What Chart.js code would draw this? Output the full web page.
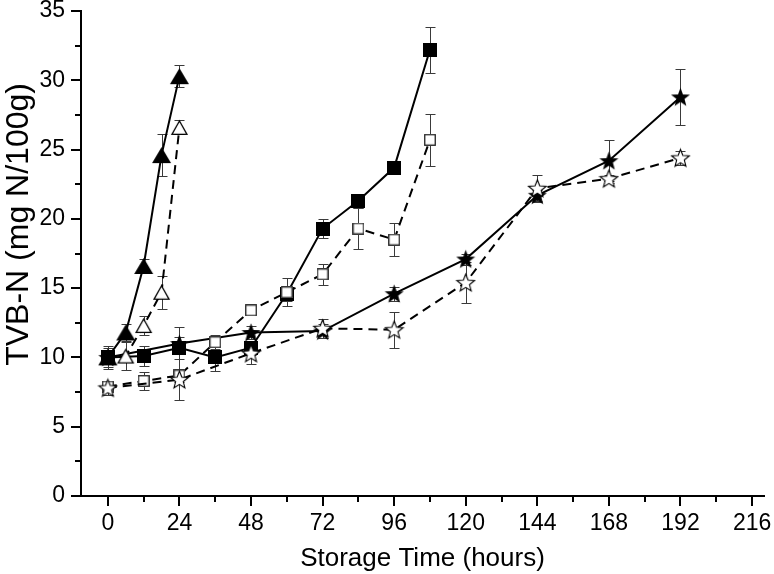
<!DOCTYPE html>
<html>
<head>
<meta charset="utf-8">
<script src="https://cdn.jsdelivr.net/npm/chart.js@4/dist/chart.umd.min.js"></script>
<style>
html,body{margin:0;padding:0;background:#fff;}
#c{display:block;}
</style>
</head>
<body>
<canvas id="c" width="774" height="574"></canvas>
<script>
// ---- data ----
const xTicks = [0, 24, 48, 72, 96, 120, 144, 168, 192, 216];
const yTicks = [0, 5, 10, 15, 20, 25, 30, 35];
const xTitle = 'Storage Time (hours)';
const yTitle = 'TVB-N (mg N/100g)';

const triHours = [0, 6, 12, 18, 24];
const triFilled = [10.0, 11.8, 16.6, 24.6, 30.3];
const triFilledErr = [0.7, 0.6, 0.5, 1.5, 0.8];
const triOpen = [10.0, 10.1, 12.3, 14.7, 26.6];
const triOpenErr = [0.5, 1.0, 0.7, 1.2, 0.5];

const sqHours = [0, 12, 24, 36, 48, 60, 72, 84, 96, 108];
const sqFilled = [10.0, 10.1, 10.7, 10.0, 10.7, 14.6, 19.3, 21.3, 23.7, 32.2];
const sqFilledErr = [0.8, 0.7, 1.5, 1.0, 0.5, 0.5, 0.7, 0.5, 0.4, 1.65];
const sqOpen = [7.9, 8.3, 8.7, 11.1, 13.4, 14.7, 16.0, 19.3, 18.5, 25.7];
const sqOpenErr = [0.3, 0.65, 0.5, 0.5, 0.3, 1.0, 0.75, 1.5, 1.2, 1.9];

const starHours = [0, 24, 48, 72, 96, 120, 144, 168, 192];
const starFilled = [10.0, 11.0, 11.8, 11.9, 14.6, 17.1, 21.7, 24.2, 28.8];
const starFilledErr = [0.5, 0.5, 0.5, 0.5, 0.5, 0.4, 0.4, 1.5, 2.0];
const starOpen = [7.8, 8.4, 10.3, 12.1, 12.0, 15.4, 22.2, 22.9, 24.4];
const starOpenErr = [0.5, 1.5, 0.8, 0.7, 1.3, 1.5, 1.0, 0.3, 0.5];

// ---- marker images ----
function mk(w, h, draw) {
  const c = document.createElement('canvas');
  c.width = w; c.height = h;
  draw(c.getContext('2d'), w, h);
  return c;
}
function triPath(g, w, h, inset) {
  g.beginPath();
  g.moveTo(w / 2, 1 + inset);
  g.lineTo(w - 1 - inset, h - 1 - inset * 0.6);
  g.lineTo(1 + inset, h - 1 - inset * 0.6);
  g.closePath();
}
function starPath(g, cx, cy, ro, ri) {
  g.beginPath();
  for (let i = 0; i < 10; i++) {
    const r = i % 2 === 0 ? ro : ri;
    const a = -Math.PI / 2 + i * Math.PI / 5;
    const px = cx + r * Math.cos(a), py = cy + r * Math.sin(a);
    if (i === 0) g.moveTo(px, py); else g.lineTo(px, py);
  }
  g.closePath();
}
const imgTriFilled = mk(21, 18, (g, w, h) => { triPath(g, w, h, 0); g.fillStyle = '#000'; g.fill(); });
const imgTriOpen = mk(19, 17, (g, w, h) => { triPath(g, w, h, 1); g.fillStyle = '#fff'; g.fill(); g.lineWidth = 1.3; g.strokeStyle = '#000'; g.stroke(); });
const imgSqFilled = mk(14, 14, (g, w, h) => { g.fillStyle = '#000'; g.fillRect(0, 0, w, h); });
const imgSqOpen = mk(12, 12, (g, w, h) => { g.fillStyle = '#fff'; g.fillRect(0, 0, w, h); g.lineWidth = 1.3; g.strokeStyle = '#222'; g.strokeRect(0.75, 0.75, w - 1.5, h - 1.5); });
const imgStarFilled = mk(21, 21, (g, w, h) => { starPath(g, 10.5, 11.3, 10, 4.2); g.fillStyle = '#000'; g.fill(); });
const imgStarOpen = mk(21, 21, (g, w, h) => { starPath(g, 10.5, 11.3, 9.3, 4); g.fillStyle = '#fff'; g.fill(); g.lineWidth = 1.1; g.strokeStyle = '#000'; g.stroke(); });

function pts(xs, ys) { return xs.map((x, i) => ({ x: x, y: ys[i] })); }

function ds(xs, ys, errs, img, dashed) {
  return {
    data: pts(xs, ys),
    errors: errs,
    showLine: true,
    borderColor: '#000',
    backgroundColor: '#000',
    borderWidth: 2,
    borderDash: dashed ? [9, 6] : [],
    pointStyle: img,
    pointRadius: 8,
    pointHoverRadius: 8,
    tension: 0,
    fill: false
  };
}

const fontFam = '"Liberation Sans", Arial, sans-serif';

const errorBars = {
  id: 'errorBars',
  beforeDatasetsDraw(chart) {
    const g = chart.ctx, xs = chart.scales.x, ys = chart.scales.y;
    g.save();
    g.strokeStyle = '#3a3a3a';
    g.lineWidth = 1;
    chart.data.datasets.forEach(d => {
      d.data.forEach((p, i) => {
        const e = d.errors[i];
        const px = Math.round(xs.getPixelForValue(p.x)) + 0.5;
        const top = Math.round(ys.getPixelForValue(p.y + e)) + 0.5;
        const bot = Math.round(ys.getPixelForValue(p.y - e)) + 0.5;
        g.beginPath();
        g.moveTo(px, top); g.lineTo(px, bot);
        g.moveTo(px - 5, top); g.lineTo(px + 5, top);
        g.moveTo(px - 5, bot); g.lineTo(px + 5, bot);
        g.stroke();
      });
    });
    g.restore();
  }
};

const minorTicksAndTitle = {
  id: 'minorTicksAndTitle',
  afterDraw(chart) {
    const g = chart.ctx, xs = chart.scales.x, ys = chart.scales.y;
    const a = chart.chartArea;
    g.save();
    g.strokeStyle = '#000';
    g.lineWidth = 2;
    g.beginPath();
    for (let v = 12; v < 216; v += 24) {
      const px = Math.round(xs.getPixelForValue(v));
      g.moveTo(px, a.bottom); g.lineTo(px, a.bottom + 6);
    }
    for (let v = 2.5; v < 35; v += 5) {
      const py = Math.round(ys.getPixelForValue(v));
      g.moveTo(a.left, py); g.lineTo(a.left - 6, py);
    }
    g.stroke();
    // y axis title (rotated), placed as in the reference
    g.translate(28, ys.getPixelForValue(19.6));
    g.rotate(-Math.PI / 2);
    g.fillStyle = '#000';
    g.font = '32px ' + fontFam;
    g.textAlign = 'center';
    g.textBaseline = 'alphabetic';
    g.fillText(yTitle, 0, 0);
    g.restore();
  }
};

new Chart(document.getElementById('c'), {
  type: 'scatter',
  data: {
    datasets: [
      ds(triHours, triFilled, triFilledErr, imgTriFilled, false),
      ds(triHours, triOpen, triOpenErr, imgTriOpen, true),
      ds(starHours, starOpen, starOpenErr, imgStarOpen, true),
      ds(sqHours, sqOpen, sqOpenErr, imgSqOpen, true),
      ds(sqHours, sqFilled, sqFilledErr, imgSqFilled, false),
      ds(starHours, starFilled, starFilledErr, imgStarFilled, false)
    ]
  },
  options: {
    responsive: false,
    animation: false,
    devicePixelRatio: 1,
    layout: { padding: { top: 11, right: 7, left: 0, bottom: 0 } },
    plugins: { legend: { display: false }, tooltip: { enabled: false } },
    scales: {
      x: {
        type: 'linear',
        min: -9,
        max: 220,
        afterBuildTicks(s) { s.ticks = xTicks.map(v => ({ value: v })); },
        afterFit(s) { s.height = 78; s.paddingLeft = 0; s.paddingRight = 0; },
        grid: { display: true, drawOnChartArea: false, drawTicks: true, tickLength: 10, color: '#000', lineWidth: 2 },
        border: { display: true, color: '#000', width: 2 },
        ticks: { color: '#000', font: { family: fontFam, size: 23 }, padding: 4, maxRotation: 0, autoSkip: false },
        title: { display: true, text: xTitle, color: '#000', font: { family: fontFam, size: 26 }, padding: { top: 0, bottom: 0 } }
      },
      y: {
        type: 'linear',
        min: 0,
        max: 35,
        afterBuildTicks(s) { s.ticks = yTicks.map(v => ({ value: v })); },
        afterFit(s) { s.width = 81; s.paddingTop = 0; s.paddingBottom = 0; },
        grid: { display: true, drawOnChartArea: false, drawTicks: true, tickLength: 10, color: '#000', lineWidth: 2 },
        border: { display: true, color: '#000', width: 2 },
        ticks: { color: '#000', font: { family: fontFam, size: 23 }, padding: 6, autoSkip: false },
        title: { display: false, text: yTitle }
      }
    }
  },
  plugins: [errorBars, minorTicksAndTitle]
});
</script>
</body>
</html>
